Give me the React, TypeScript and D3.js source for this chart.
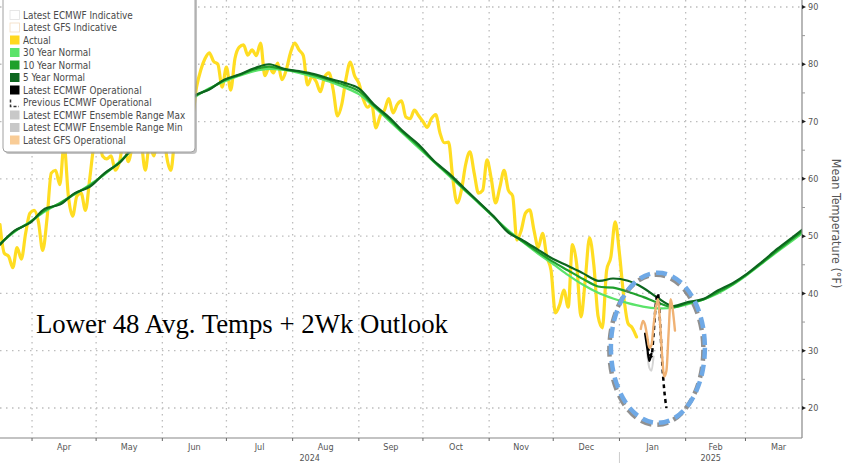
import React from "react";
import * as d3 from "d3";

const width = 848;
const height = 463;

const domainStart = new Date(2024, 2, 17);
const domainEnd = new Date(2025, 2, 27);

const yTicks = [20, 30, 40, 50, 60, 70, 80, 90];
const yMinorTicks = [25, 35, 45, 55, 65, 75, 85];
const monthLabels = ["Apr", "May", "Jun", "Jul", "Aug", "Sep", "Oct", "Nov", "Dec", "Jan", "Feb", "Mar"];
const yearLabels = ["2024", "2025"];
const axisTitle = "Mean Temperature (°F)";
const chartTitle = "Lower 48 Avg. Temps + 2Wk Outlook";

// Actual (every 2 days from Mar 17 2024)
const actualStart = new Date(2024, 2, 17);
const actualStepDays = 2;
const actualValues = [
  52, 47, 46.5, 44.5, 48, 46, 50.5, 54, 54.5, 52.5,
  47.5, 53, 61, 61.5, 59, 66, 57, 53.5, 57, 57.5,
  54.5, 60, 66, 68, 64, 63.5, 64, 61.5, 63, 67,
  63, 66, 70, 67, 61.5, 66, 64, 69, 71, 64,
  61.5, 68, 71, 69, 73, 71, 76, 79, 81, 82,
  80.5, 80, 76, 79.5, 75.5, 81, 83, 83.4, 81.6, 82.5,
  81.5, 83.7, 78, 79.5, 78.5, 80.2, 77.3, 79, 82, 83.7,
  82.5, 81.5, 76.4, 77.8, 77, 75.2, 77.8, 78.5, 75.5, 71,
  73, 77.5, 80.4, 78, 76.7, 74, 72.5, 73, 68.9, 71,
  72, 74, 71.5, 73, 73.6, 70.8, 70.5, 72, 71, 70,
  69, 70.5, 71.2, 68, 66.3, 66.4, 60, 55.8, 58, 62.5,
  64.7, 61, 57.5, 58, 63.3, 60, 55.8, 58.5, 61.5, 58,
  57, 49.3, 51, 54, 54.6, 51, 48, 50.5, 46.4, 44,
  36.6, 38, 40.6, 37.6, 48.5, 45, 35.9, 42.4, 49.7, 45,
  36, 34, 44, 46.4, 52.5, 47, 39.5, 34.8, 34, 32.4,
];

// Normals (weekly from Mar 17 2024)
const normalStart = new Date(2024, 2, 17);
const normalStepDays = 7;
const normal30 = [
  48.7, 50.8, 52.5, 54.3, 55.8, 57.3, 59, 60.8, 63, 65.5,
  68, 70.3, 72.3, 74.2, 75.8, 77, 78, 78.8, 79.2, 79,
  78.5, 77.8, 77, 76, 74.8, 72.6, 70.2, 67.8, 65.4, 63,
  60.6, 58.2, 55.8, 53.4, 51, 48.9, 46.9, 45.1, 43.2, 41.5,
  40.1, 39.1, 38.3, 37.7, 37.4, 37.5, 38.1, 38.9, 40, 41.5,
  43.3, 45.3, 47.3, 49.2, 51.2,
];
const normal10 = [
  48.6, 50.9, 52.4, 54.5, 55.7, 57.4, 58.8, 60.9, 62.9, 65.6,
  67.8, 70.4, 72.2, 74.4, 75.7, 77.2, 78.1, 79.1, 79.6, 79.1,
  78.7, 78.1, 77.3, 76.4, 75.3, 72.8, 70.5, 68, 65.7, 63.1,
  60.8, 58.3, 55.9, 53.4, 50.8, 49, 47.2, 45.5, 44, 42.5,
  41.2, 41, 40.3, 39.4, 38.4, 37.6, 38.3, 38.9, 40.2, 41.6,
  43.4, 45.4, 47.5, 49.5, 51.5,
];
const normal5 = [
  48.5, 51, 52.3, 54.8, 55.5, 57.5, 58.6, 61, 62.8, 65.8,
  67.5, 70.6, 72, 74.5, 75.6, 77.3, 78.2, 79.3, 80, 79.2,
  78.8, 78.3, 77.5, 76.8, 75.8, 73, 70.8, 68.2, 66, 63.2,
  61, 58.5, 56, 53.5, 50.6, 49.2, 47.6, 46, 44.8, 43.5,
  42.2, 42.6, 42.2, 41, 39.2, 37.8, 38.5, 39, 40.5, 41.8,
  43.5, 45.6, 47.8, 49.8, 51.8,
];

// Forecasts (daily)
const gfsStart = new Date(2025, 0, 11);
const gfsOperational = [33.8, 35.2, 34.5, 32.5, 30.5, 31, 34.5, 37.5, 39, 35, 29, 25.5, 26.5, 33, 39, 37, 33.5];
const ecmwfLatestStart = new Date(2025, 0, 13);
const ecmwfLatest = [33, 30.5, 28.2, 29.5];
const ecmwfPrevStart = new Date(2025, 0, 14);
const ecmwfPrevious = [32, 29.5, 29, 33, 38, 40, 35, 28, 23, 20];
const ensMinStart = new Date(2025, 0, 14);
const ensembleMin = [29.5, 27, 26.5, 29];

// Annotation ellipse (data units)
const ellipseCenterDate = new Date(2025, 0, 19);
const ellipseCenterValue = 30.5;
const ellipseHalfDays = 22;
const ellipseHalfDegrees = 13.1;

const legendLabels = [
  "Latest ECMWF Indicative",
  "Latest GFS Indicative",
  "Actual",
  "30 Year Normal",
  "10 Year Normal",
  "5 Year Normal",
  "Latest ECMWF Operational",
  "Previous ECMWF Operational",
  "Latest ECMWF Ensemble Range Max",
  "Latest ECMWF Ensemble Range Min",
  "Latest GFS Operational",
];
const legendColors = ["#ffffff", "#ffffff", "#FFD81F", "#5BE36A", "#1FA02C", "#0C661E", "#000000", "dashed", "#C8C8C8", "#C8C8C8", "#F9CC96"];

type Pt = { date: Date; v: number };
const series = (start: Date, step: number, vals: number[]): Pt[] =>
  vals.map((v, i) => ({ date: d3.timeDay.offset(start, i * step), v }));

export default function App() {
  const plotRight = 802;
  const plotBottom = 438;
  const x = d3.scaleTime().domain([domainStart, domainEnd]).range([0, 801]);
  const y = d3.scaleLinear().domain([14.76, 91.22]).range([plotBottom, 0]);

  const line = d3
    .line<Pt>()
    .x((d) => x(d.date))
    .y((d) => y(d.v))
    .curve(d3.curveMonotoneX);
  const smooth = d3
    .line<Pt>()
    .x((d) => x(d.date))
    .y((d) => y(d.v))
    .curve(d3.curveCatmullRom.alpha(0.5));

  const actual = series(actualStart, actualStepDays, actualValues);
  const n30 = series(normalStart, normalStepDays, normal30);
  const n10 = series(normalStart, normalStepDays, normal10);
  const n5 = series(normalStart, normalStepDays, normal5);
  const gfs = series(gfsStart, 1, gfsOperational);
  const ecLatest = series(ecmwfLatestStart, 1, ecmwfLatest);
  const ecPrev = series(ecmwfPrevStart, 1, ecmwfPrevious);
  const ensMin = series(ensMinStart, 1, ensembleMin);

  const months = d3.timeMonth.range(new Date(2024, 3, 1), new Date(2025, 2, 2));
  const jan1 = new Date(2025, 0, 1);

  const ecx = x(ellipseCenterDate);
  const ecy = y(ellipseCenterValue);
  const erx = x(d3.timeDay.offset(ellipseCenterDate, ellipseHalfDays)) - ecx;
  const ery = y(ellipseCenterValue - ellipseHalfDegrees) - ecy;

  const gridColor = "#bdbdbd";
  const textColor = "#555";
  const font = "DejaVu Sans, Verdana, sans-serif";

  return (
    <svg
      width={width}
      height={height}
      style={{ position: "absolute", left: 0, top: 0, background: "#fff" }}
      fontFamily={font}
    >
      <defs>
        <clipPath id="plotClip">
          <rect x={0} y={0} width={plotRight} height={plotBottom} />
        </clipPath>
      </defs>
      <rect x={0} y={0} width={width} height={height} fill="#fff" />

      {/* grid */}
      {yTicks.map((t) => (
        <line key={"hg" + t} x1={0} x2={plotRight} y1={y(t)} y2={y(t)} stroke={gridColor} strokeWidth={1.3} strokeDasharray="1.5,4.5" />
      ))}
      {months.map((m, i) => (
        <line key={"vg" + i} x1={x(m)} x2={x(m)} y1={0} y2={plotBottom} stroke={gridColor} strokeWidth={1.3} strokeDasharray="1.5,4.5" />
      ))}

      {/* series */}
      <g clipPath="url(#plotClip)" fill="none" strokeLinejoin="round" strokeLinecap="round">
        <path d={line(actual) || ""} stroke="#FFDD22" strokeWidth={3.2} />
        <path d={smooth(n30) || ""} stroke="#5BE36A" strokeWidth={2.2} />
        <path d={smooth(n10) || ""} stroke="#1FA02C" strokeWidth={2.2} />
        <path d={smooth(n5) || ""} stroke="#0C661E" strokeWidth={2.2} />
        <path d={line(ensMin) || ""} stroke="#d4d4d4" strokeWidth={2} />
        <path d={line(ecLatest) || ""} stroke="#000" strokeWidth={2.2} />
        <path d={line(ecPrev) || ""} stroke="#000" strokeWidth={2.5} strokeDasharray="4,3.5" strokeLinecap="butt" />
        <path d={line(gfs) || ""} stroke="#F0B274" strokeWidth={2.4} />
      </g>

      {/* ellipse annotation */}
      <ellipse cx={ecx - 1.5} cy={ecy + 2} rx={erx} ry={ery} fill="none" stroke="#6b6b6b" strokeWidth={4.5} strokeDasharray="11,6" opacity={0.75} />
      <ellipse cx={ecx} cy={ecy} rx={erx} ry={ery} fill="none" stroke="#6FA9E6" strokeWidth={4.5} strokeDasharray="11,6" />

      {/* x axis */}
      <line x1={0} x2={plotRight} y1={plotBottom} y2={plotBottom} stroke="#888" strokeWidth={1.2} />
      {months.map((m, i) => {
        const next = d3.timeMonth.offset(m, 1);
        const mid = (x(m) + x(next)) / 2;
        return (
          <g key={"mt" + i}>
            <line x1={x(m)} x2={x(m)} y1={plotBottom} y2={plotBottom + 3} stroke="#666" />
            <text x={mid} y={plotBottom + 12} textAnchor="middle" fontSize={9} fontStretch="condensed" fill={textColor}>
              {monthLabels[i]}
            </text>
          </g>
        );
      })}
      <line x1={x(jan1)} x2={x(jan1)} y1={plotBottom + 14} y2={height} stroke="#ccc" strokeWidth={1} />
      <text x={x(jan1) / 2} y={plotBottom + 23} textAnchor="middle" fontSize={9} fontStretch="condensed" fill={textColor}>
        {yearLabels[0]}
      </text>
      <text x={(x(jan1) + plotRight) / 2} y={plotBottom + 23} textAnchor="middle" fontSize={9} fontStretch="condensed" fill={textColor}>
        {yearLabels[1]}
      </text>

      {/* right y axis */}
      <line x1={plotRight} x2={plotRight} y1={0} y2={plotBottom} stroke="#888" strokeWidth={1.2} />
      {yMinorTicks.map((t) => (
        <line key={"mn" + t} x1={plotRight} x2={plotRight + 3} y1={y(t)} y2={y(t)} stroke="#999" />
      ))}
      {yTicks.map((t) => (
        <g key={"yt" + t}>
          <path d={`M${plotRight},${y(t) - 2} L${plotRight + 4},${y(t)} L${plotRight},${y(t) + 2} Z`} fill="#222" />
          <text x={plotRight + 6} y={y(t) + 3.2} fontSize={9} fontStretch="condensed" fill={textColor}>
            {t}
          </text>
        </g>
      ))}
      <text transform={`translate(832,${y(52.2)}) rotate(90)`} textAnchor="middle" fontSize={12.5} fontStretch="condensed" fill={textColor}>
        {axisTitle}
      </text>

      {/* title annotation */}
      <text x={36} y={333} fontFamily="Liberation Serif, Times New Roman, serif" fontSize={26.8} fill="#000">
        {chartTitle}
      </text>

      {/* legend */}
      <rect x={5} y={-3} width={192} height={157} rx={4} fill="#9a9a9a" opacity={0.6} />
      <rect x={3} y={-5} width={192} height={157} rx={4} fill="#fff" stroke="#a0a0a0" strokeWidth={1} />
      {legendLabels.map((lab, i) => {
        const cy = 15 + i * 12.5;
        const c = legendColors[i];
        return (
          <g key={"lg" + i}>
            {c === "dashed" ? (
              <path d={`M10.5,${cy - 3} L10.5,${cy + 4} L19,${cy + 4}`} fill="none" stroke="#333" strokeWidth={1.5} strokeDasharray="3,2" />
            ) : (
              <rect
                x={10}
                y={cy - 4.5}
                width={9.5}
                height={9}
                fill={c}
                stroke={c === "#ffffff" ? (i === 1 ? "#f3dcc0" : "#e2e2e2") : "none"}
                strokeWidth={0.8}
              />
            )}
            <text x={23} y={cy + 3.5} fontSize={9.9} fontStretch="condensed" fill="#4a4a4a">
              {lab}
            </text>
          </g>
        );
      })}
    </svg>
  );
}
